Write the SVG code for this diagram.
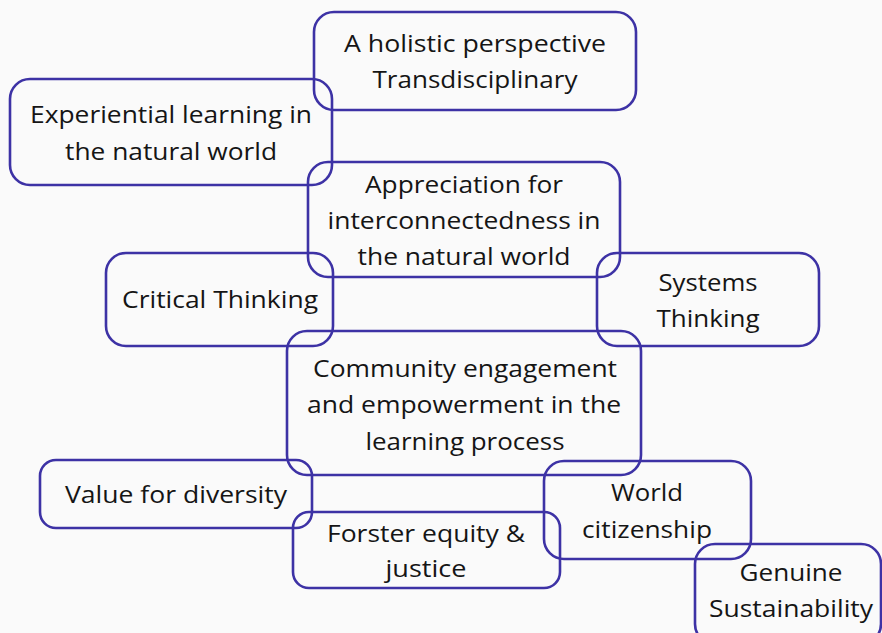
<svg xmlns="http://www.w3.org/2000/svg" width="882" height="633" viewBox="0 0 882 633">
  <style>
    .box { fill: none; stroke: #3d32a5; stroke-width: 2.6; }
    .lbl { font-family: "Open Sans", Lato, "Liberation Sans", sans-serif; font-size: 24px; fill: #151515; text-anchor: middle; }
  </style>
  <rect x="0" y="0" width="882" height="633" fill="#fafafa"/>
  <g id="connectors"></g>

  <g id="holistic">
    <rect class="box" x="314" y="12" width="322" height="98" rx="20"/>
    <text class="lbl" x="475" y="52" textLength="262" lengthAdjust="spacingAndGlyphs">A holistic perspective</text>
    <text class="lbl" x="475" y="88" textLength="205" lengthAdjust="spacingAndGlyphs">Transdisciplinary</text>
  </g>
  <g id="experiential">
    <rect class="box" x="10" y="79" width="322" height="106" rx="20"/>
    <text class="lbl" x="171" y="123" textLength="282" lengthAdjust="spacingAndGlyphs">Experiential learning in</text>
    <text class="lbl" x="171" y="160" textLength="212" lengthAdjust="spacingAndGlyphs">the natural world</text>
  </g>
  <g id="appreciation">
    <rect class="box" x="308" y="162" width="312" height="115" rx="20"/>
    <text class="lbl" x="464" y="193" textLength="198" lengthAdjust="spacingAndGlyphs">Appreciation for</text>
    <text class="lbl" x="464" y="229" textLength="273" lengthAdjust="spacingAndGlyphs">interconnectedness in</text>
    <text class="lbl" x="464" y="265" textLength="213" lengthAdjust="spacingAndGlyphs">the natural world</text>
  </g>
  <g id="critical">
    <rect class="box" x="106" y="253" width="227" height="93" rx="20"/>
    <text class="lbl" x="220" y="308" textLength="196" lengthAdjust="spacingAndGlyphs">Critical Thinking</text>
  </g>
  <g id="systems">
    <rect class="box" x="597" y="253" width="222" height="93" rx="20"/>
    <text class="lbl" x="708" y="291" textLength="99" lengthAdjust="spacingAndGlyphs">Systems</text>
    <text class="lbl" x="708" y="327" textLength="103" lengthAdjust="spacingAndGlyphs">Thinking</text>
  </g>
  <g id="community">
    <rect class="box" x="287" y="331" width="354" height="144" rx="20"/>
    <text class="lbl" x="465" y="377" textLength="304" lengthAdjust="spacingAndGlyphs">Community engagement</text>
    <text class="lbl" x="464" y="413" textLength="314" lengthAdjust="spacingAndGlyphs">and empowerment in the</text>
    <text class="lbl" x="465" y="450" textLength="199" lengthAdjust="spacingAndGlyphs">learning process</text>
  </g>
  <g id="diversity">
    <rect class="box" x="40" y="460" width="272" height="68" rx="16"/>
    <text class="lbl" x="176" y="503" textLength="222" lengthAdjust="spacingAndGlyphs">Value for diversity</text>
  </g>
  <g id="equity">
    <rect class="box" x="293" y="512" width="267" height="76" rx="16"/>
    <text class="lbl" x="426" y="542" textLength="198" lengthAdjust="spacingAndGlyphs">Forster equity &amp;</text>
    <text class="lbl" x="426" y="577" textLength="81" lengthAdjust="spacingAndGlyphs">justice</text>
  </g>
  <g id="citizenship">
    <rect class="box" x="544" y="461" width="207" height="98" rx="20"/>
    <text class="lbl" x="647" y="501" textLength="72" lengthAdjust="spacingAndGlyphs">World</text>
    <text class="lbl" x="647" y="538" textLength="130" lengthAdjust="spacingAndGlyphs">citizenship</text>
  </g>
  <g id="sustainability">
    <rect class="box" x="695" y="544" width="186" height="100" rx="20"/>
    <text class="lbl" x="791" y="581" textLength="103" lengthAdjust="spacingAndGlyphs">Genuine</text>
    <text class="lbl" x="791" y="617" textLength="164" lengthAdjust="spacingAndGlyphs">Sustainability</text>
  </g>
</svg>
